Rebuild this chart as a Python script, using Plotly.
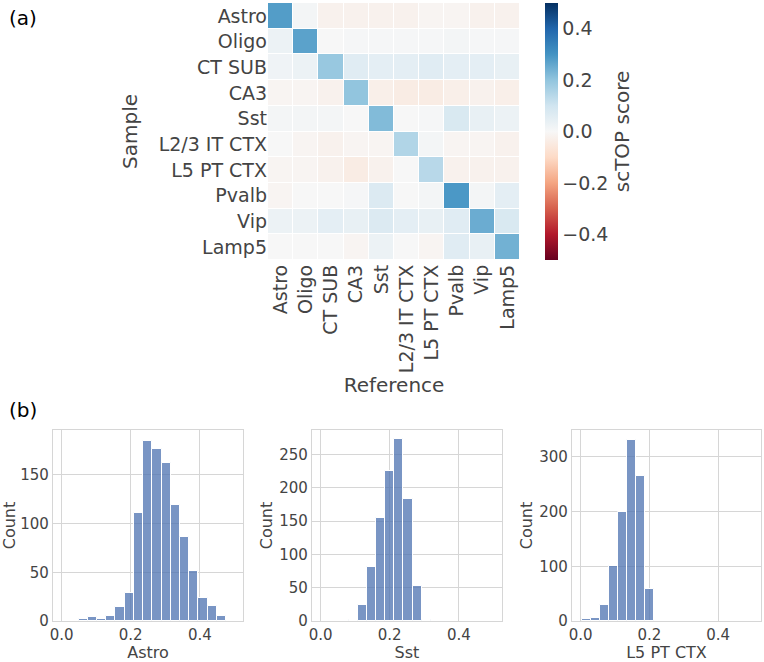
import plotly.graph_objects as go

# ---------------- data ----------------
cell_types = ["Astro", "Oligo", "CT SUB", "CA3", "Sst", "L2/3 IT CTX",
              "L5 PT CTX", "Pvalb", "Vip", "Lamp5"]

# rows = Sample, columns = Reference (mean scTOP score)
scores = [
    [0.28, 0.01, -0.02, -0.02, -0.02, -0.02, -0.01, -0.01, -0.02, -0.02],
    [0.03, 0.27, 0.00, 0.005, 0.005, 0.005, 0.005, 0.01, 0.005, 0.005],
    [0.02, 0.03, 0.19, 0.06, 0.05, 0.05, 0.06, 0.05, 0.05, 0.04],
    [-0.01, -0.01, -0.02, 0.20, -0.03, -0.04, -0.04, -0.03, -0.02, -0.03],
    [0.01, 0.01, 0.01, 0.00, 0.22, 0.00, 0.005, 0.08, 0.04, 0.03],
    [0.00, -0.01, -0.02, -0.01, -0.01, 0.15, 0.01, -0.01, -0.01, -0.02],
    [-0.01, -0.01, -0.02, -0.04, -0.02, 0.00, 0.14, -0.02, -0.02, -0.02],
    [-0.01, 0.00, 0.00, 0.005, 0.07, 0.00, 0.01, 0.29, 0.01, 0.05],
    [0.03, 0.03, 0.05, 0.04, 0.07, 0.05, 0.04, 0.06, 0.25, 0.08],
    [0.00, 0.00, 0.00, -0.01, 0.03, 0.00, -0.01, 0.06, 0.04, 0.24],
]

cbar_ticks = [-0.4, -0.2, 0.0, 0.2, 0.4]
cbar_labels = ["\u22120.4", "\u22120.2", "0.0", "0.2", "0.4"]

# histogram bins (first left edge, bin width) and counts
astro_bin_start, astro_bin_width = 0.049, 0.0267
astro_counts = [2, 4, 2, 5, 14, 29, 111, 185, 177, 162, 119, 86, 51, 24, 15, 5]

sst_bin_start, sst_bin_width = 0.082, 0.0263
sst_counts = [1, 24, 81, 155, 226, 273, 183, 53, 1]

l5_bin_start, l5_bin_width = 0.003, 0.0262
l5_counts = [3, 5, 29, 100, 200, 331, 265, 58]

hist_titles = ["Astro", "Sst", "L5 PT CTX"]
hist_yticks = [[0, 50, 100, 150], [0, 50, 100, 150, 200, 250], [0, 100, 200, 300]]
hist_ymax = [196, 287, 349]

# ---------------- styling ----------------
W, H = 764, 662
FONT = "DejaVu Sans"
TXT = "#444444"
GRID = "#d6d6d6"

rdbu = ["#67001f", "#b2182b", "#d6604d", "#f4a582", "#fddbc7", "#f7f7f7",
        "#d1e5f0", "#92c5de", "#4393c3", "#2166ac", "#053061"]
colorscale = [[i / 10, c] for i, c in enumerate(rdbu)]

def px(x):
    return x / W

def py(y):
    return 1 - y / H

def xd(a, b):
    return [px(a), px(b)]

def yd(top, bottom):
    return [py(bottom), py(top)]

fig = go.Figure()

fig.add_trace(go.Heatmap(
    z=scores, x=cell_types, y=cell_types,
    zmin=-0.5, zmax=0.5, colorscale=colorscale,
    xgap=1, ygap=1,
    xaxis="x", yaxis="y",
    colorbar=dict(
        x=px(545), xanchor="left", y=py(260), yanchor="bottom",
        len=257 / H, lenmode="fraction", thickness=13, outlinewidth=0,
        xpad=0, ypad=0,
        tickvals=cbar_ticks, ticktext=cbar_labels, ticks="",
        tickfont=dict(size=19, color=TXT, family=FONT),
        title=dict(text="scTOP score", side="right",
                   font=dict(size=20, color=TXT, family=FONT)),
    ),
))

hists = [
    (astro_bin_start, astro_bin_width, astro_counts),
    (sst_bin_start, sst_bin_width, sst_counts),
    (l5_bin_start, l5_bin_width, l5_counts),
]
for i, (s, w, counts) in enumerate(hists):
    xs = [s + w * (k + 0.5) for k in range(len(counts))]
    fig.add_trace(go.Bar(
        x=xs, y=counts, width=[w] * len(counts),
        marker=dict(color="rgba(76,114,176,0.75)", line=dict(color="white", width=1)),
        xaxis=f"x{i + 2}", yaxis=f"y{i + 2}", showlegend=False,
    ))

layout = dict(
    width=W, height=H, margin=dict(l=0, r=0, t=0, b=0, autoexpand=False),
    paper_bgcolor="white", plot_bgcolor="white",
    font=dict(family=FONT, color=TXT),
    showlegend=False, bargap=0,
    xaxis=dict(domain=xd(268, 520), anchor="y", tickangle=-90, automargin=False,
               showgrid=False, zeroline=False, ticks="", showline=False,
               tickfont=dict(size=19, color=TXT),
               title=dict(text="Reference", font=dict(size=20, color=TXT), standoff=5)),
    yaxis=dict(domain=yd(3, 260), anchor="x", autorange="reversed", automargin=False,
               showgrid=False, zeroline=False, ticks="", showline=False,
               tickfont=dict(size=19, color=TXT),
               title=dict(text="Sample", font=dict(size=20, color=TXT))),
)

hx = [(53, 243), (312, 502), (572, 761)]
for i in range(3):
    n = i + 2
    layout[f"xaxis{n}"] = dict(
        domain=xd(*hx[i]), anchor=f"y{n}", range=[-0.025, 0.525], automargin=False,
        tickvals=[0.0, 0.2, 0.4], tickformat=".1f",
        showgrid=True, gridcolor=GRID, gridwidth=1.2, zeroline=False,
        showline=True, linecolor=GRID, linewidth=1.2, mirror=True, ticks="",
        tickfont=dict(size=15, color=TXT),
        title=dict(text=hist_titles[i], font=dict(size=16, color=TXT), standoff=3),
    )
    layout[f"yaxis{n}"] = dict(
        domain=yd(430, 621), anchor=f"x{n}", range=[0, hist_ymax[i]], automargin=False,
        tickvals=hist_yticks[i],
        showgrid=True, gridcolor=GRID, gridwidth=1.2, zeroline=False,
        showline=True, linecolor=GRID, linewidth=1.2, mirror=True, ticks="",
        tickfont=dict(size=15, color=TXT),
        title=dict(text="Count", font=dict(size=16, color=TXT), standoff=2),
    )

fig.update_layout(**layout)

fig.add_annotation(text="(a)", x=px(7), y=py(18), xref="paper", yref="paper",
                   xanchor="left", yanchor="middle", showarrow=False,
                   font=dict(size=20, color="black", family=FONT))
fig.add_annotation(text="(b)", x=px(7), y=py(410), xref="paper", yref="paper",
                   xanchor="left", yanchor="middle", showarrow=False,
                   font=dict(size=20, color="black", family=FONT))

# remove the default 8px page margin so the figure sits at the window's corner
fig.write_html("out.html", config={"displayModeBar": False},
               post_script="document.body.style.margin='0';")
